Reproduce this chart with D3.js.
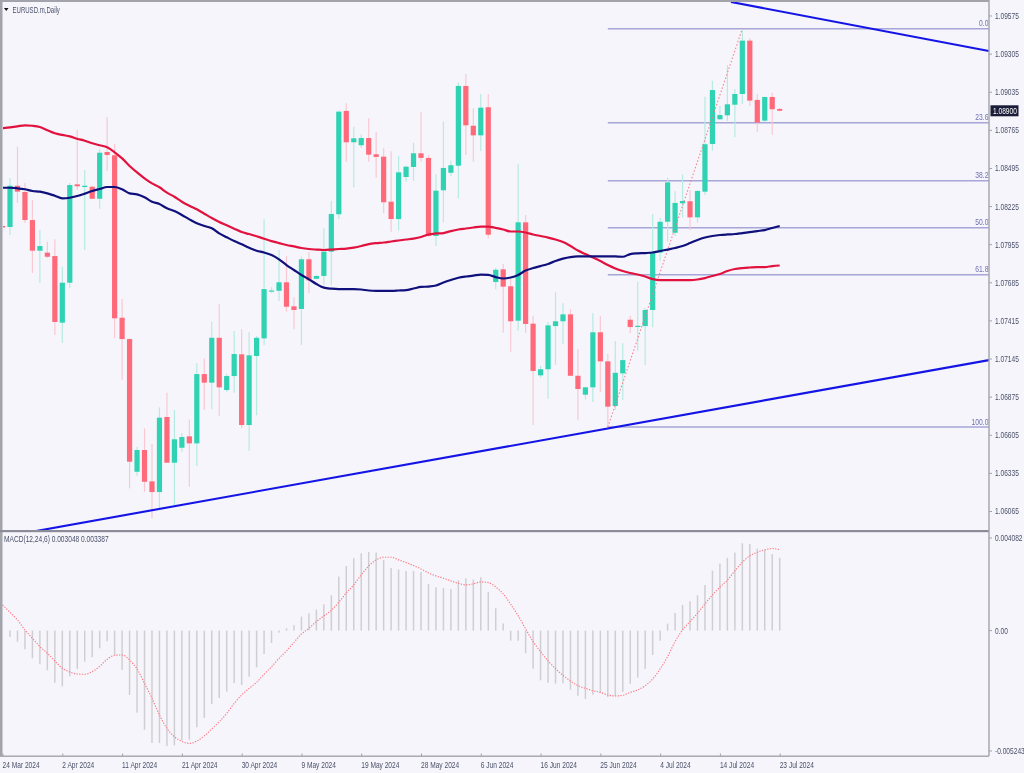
<!DOCTYPE html>
<html><head><meta charset="utf-8">
<script src="https://cdn.jsdelivr.net/npm/d3@7/dist/d3.min.js"></script>
<style>html,body{margin:0;padding:0;background:#f5f5fb;overflow:hidden}
svg{filter:blur(0.35px)}
text{font-family:"Liberation Sans",sans-serif}</style></head>
<body><svg id="c" width="1024" height="773"></svg>
<script>
// Prices in points (1 point = 0.00001)
const opens=[108084,108077,108369,108325,108126,107909,107895,107871,107399,107682,108379,108360,108362,108277,108608,108585,107434,107283,106343,106497,106275,106199,106731,106407,106513,106594,106544,107035,106974,107292,106922,107021,107175,106674,107163,107288,107623,107625,107685,107515,107496,107848,107710,107730,107902,108167,108899,108677,108656,108707,108592,108575,108256,108133,108431,108502,108599,108566,108013,108337,108461,108511,109076,108794,108726,108925,107687,107777,107657,107413,108110,107392,107026,107069,107375,107409,107458,107023,106889,106941,107331,107125,106809,107040,107420,107373,107375,107489,107895,108114,108036,108245,108259,108145,108327,108665,108840,108868,108943,109019,109397,108977,108830,108998,108913];
const highs=[108112,108424,108646,108391,108268,108055,107973,107990,107795,108388,108764,108480,108367,108629,108854,108665,107567,107290,106520,106651,106539,106799,106903,106780,106615,106714,107111,107146,107406,107529,107035,107340,107352,107331,107304,108131,107650,107914,107873,107579,107866,107902,107735,108068,108261,108901,108953,108787,108733,108847,108750,108634,108613,108580,108511,108674,108889,108585,108450,108823,108546,109099,109161,108918,109019,109019,107788,107815,107708,108523,108162,107448,107092,107404,107614,107536,107494,107210,106945,107465,107446,107179,107269,107253,107448,107689,107503,108169,108141,108426,108330,108450,108339,108339,109000,109113,108934,109225,109054,109477,109414,109019,109000,109028,108920];
const lows=[108041,108020,108247,108105,107751,107680,107857,107311,107255,107645,108339,107914,108273,108206,108476,107290,106993,106225,106315,106201,106013,106084,106407,106107,106485,106237,106383,106780,106785,106740,106908,106903,106651,106492,106743,107241,107611,107552,107477,107352,107241,107607,107706,107666,107666,108131,108539,108358,108639,108539,108426,108174,108043,108051,108398,108403,108539,108008,107942,108110,108438,108280,108587,108539,108615,107997,107635,107328,107193,107342,107328,106674,107009,106860,107099,107248,107023,106709,106856,106837,106908,106662,106780,106851,107324,107200,107099,107366,107836,107973,108013,108145,108055,108107,108303,108617,108835,108828,108712,108948,108934,108752,108823,108729,108896];
const closes=[108073,108369,108327,108126,107909,107942,107866,107404,107682,108374,108365,108369,108277,108603,108587,107430,107283,106414,106497,106272,106199,106726,106407,106573,106589,106544,107035,106974,107292,106941,107021,107177,106674,107168,107292,107637,107627,107685,107512,107489,107848,107699,107730,107902,108169,108894,108677,108705,108707,108589,108573,108252,108133,108464,108504,108599,108566,108013,108334,108495,108514,109076,108797,108726,108922,108022,107774,107654,107409,108110,107390,107057,107069,107380,107409,107458,107023,106929,106941,107331,107125,106804,107044,107134,107368,107377,107489,107895,108114,108393,108247,108261,108145,108332,108663,109047,108870,108946,109019,109397,108972,108816,108998,108911,108900];
const maRed=[108776,108783,108790,108797,108794,108785,108762,108741,108729,108719,108702,108688,108670,108656,108641,108606,108563,108509,108464,108422,108386,108358,108320,108291,108256,108228,108202,108171,108140,108112,108089,108065,108041,108027,108011,107994,107977,107963,107949,107939,107928,107921,107917,107914,107917,107921,107924,107931,107942,107956,107963,107967,107974,107981,107988,107995,108006,108024,108031,108034,108048,108059,108066,108073,108080,108080,108070,108059,108045,108045,108038,108024,108013,108002,107988,107970,107942,107910,107885,107861,107836,107807,107783,107765,107751,107740,107726,107708,107701,107701,107701,107701,107701,107705,107715,107730,107744,107765,107779,107786,107790,107793,107793,107800,107804];
const maNavy=[108355,108355,108351,108344,108332,108327,108315,108298,108280,108284,108296,108313,108332,108346,108360,108360,108344,108315,108308,108287,108256,108240,108209,108190,108162,108131,108103,108084,108068,108032,108004,107977,107954,107930,107909,107896,107878,107848,107807,107772,107737,107706,107673,107647,107640,107637,107637,107637,107634,107627,107625,107625,107625,107627,107630,107641,107652,107655,107662,107683,107701,107717,107726,107732,107740,107737,107722,107712,107719,107737,107768,107786,107800,107815,107836,107853,107864,107868,107868,107869,107869,107869,107868,107866,107885,107890,107892,107896,107907,107917,107928,107942,107963,107985,108002,108013,108020,108024,108027,108034,108041,108048,108055,108070,108084];
// MACD values in millionths
const macdHist=[0,-265,-460,-781,-1158,-1409,-1660,-2176,-2330,-1911,-1604,-1297,-1116,-739,-446,-1018,-1646,-2692,-3432,-4143,-4701,-4701,-4827,-4799,-4590,-4562,-4046,-3655,-3069,-2818,-2553,-2190,-2274,-1925,-1535,-977,-516,-84,98,223,586,725,879,1102,1479,2260,2706,3027,3236,3292,3264,2957,2623,2553,2497,2497,2455,1953,1814,1786,1744,2106,2190,2134,2232,1618,935,293,-419,-419,-949,-1590,-2079,-2176,-2218,-2204,-2469,-2720,-2860,-2678,-2595,-2776,-2734,-2567,-2218,-1967,-1604,-1018,-419,293,739,1074,1228,1479,1911,2511,2804,3041,3264,3655,3627,3432,3362,3209,3048];
const macdSignal=[1074,767,446,28,-321,-670,-949,-1269,-1576,-1730,-1814,-1827,-1716,-1493,-1200,-1032,-1018,-1228,-1604,-2204,-2832,-3529,-4087,-4436,-4631,-4715,-4617,-4408,-4115,-3808,-3460,-3041,-2692,-2413,-2162,-1827,-1507,-1158,-851,-488,-140,98,377,614,851,1186,1576,1911,2330,2706,2957,3069,3069,2957,2846,2720,2581,2413,2288,2190,2079,1981,1911,1953,2037,2009,1827,1535,1102,628,70,-460,-879,-1269,-1590,-1869,-2106,-2302,-2413,-2511,-2581,-2692,-2734,-2706,-2581,-2483,-2302,-2023,-1604,-1088,-460,28,377,725,1116,1493,1814,2120,2497,2860,3125,3278,3376,3432,3387];
const priceTicks=["1.09575","1.09305","1.09035","1.08765","1.08495","1.08225","1.07955","1.07685","1.07415","1.07145","1.06875","1.06605","1.06335","1.06065"];
const dateLabels=["24 Mar 2024","2 Apr 2024","11 Apr 2024","21 Apr 2024","30 Apr 2024","9 May 2024","19 May 2024","28 May 2024","6 Jun 2024","16 Jun 2024","25 Jun 2024","4 Jul 2024","14 Jul 2024","23 Jul 2024"];
const dateEvery=8;
const macdTicks=[0.004082,0,-0.005243];
const fibLevels=[0,23.6,38.2,50,61.8,100];
const fibHigh=109482, fibLow=106660, fibStart=81, fibPeak=99, rightEdge=132;
const trendUpperI=[97.48,132], trendUpperP=[109671,109324];
const trendLowerI=[4.48,132], trendLowerP=[105923,107134];
const lastPrice="1.08900";
const chartTitle="EURUSD.m,Daily";
const macdTitle="MACD(12,24,6) 0.003048 0.003387";

const svg=d3.select("#c");
const W=989,mainTop=2,mainBot=530,subBot=756;
const BORDER="#a3a3ab",TXT="#4b5068",FIB="#a6a6d8",FIBT="#6f6fb4",UP="#2fd3b3",DN="#ff6a7b",UPW="#b6ebe1",DNW="#f9c9d2";
const x=d3.scaleLinear().domain([0,104]).range([2.53,779.7]);
const y=d3.scaleLinear().domain([106065,109575]).range([511,15.5]);
const ym=d3.scaleLinear().domain([-5243,4082]).range([756,533]);

svg.append("defs").append("clipPath").attr("id","mc").append("rect").attr("x",3).attr("y",mainTop).attr("width",W-3).attr("height",mainBot-mainTop);
const main=svg.append("g").attr("clip-path","url(#mc)");

const fibY=r=>y(fibHigh-r/100*(fibHigh-fibLow));
main.selectAll(".fib").data(fibLevels).join("line").attr("x1",x(fibStart)).attr("x2",x(rightEdge))
  .attr("y1",fibY).attr("y2",fibY).attr("stroke",FIB).attr("stroke-width",1.5);

const n=opens.length, idx=d3.range(n);
main.selectAll(".w").data(idx).join("line").attr("x1",x).attr("x2",x)
  .attr("y1",i=>y(highs[i])).attr("y2",i=>y(lows[i]))
  .attr("stroke",i=>closes[i]>=opens[i]?UPW:DNW).attr("stroke-width",1.2);
main.selectAll(".b").data(idx).join("rect").attr("x",i=>x(i)-2.6).attr("width",5.2)
  .attr("y",i=>y(Math.max(opens[i],closes[i])))
  .attr("height",i=>Math.max(1.2,Math.abs(y(opens[i])-y(closes[i]))))
  .attr("fill",i=>closes[i]>=opens[i]?UP:DN);

main.append("line").attr("x1",x(fibStart)).attr("y1",y(fibLow)).attr("x2",x(fibPeak)).attr("y2",y(fibHigh))
  .attr("stroke",DN).attr("stroke-width",1.1).attr("stroke-dasharray","1.5 2").attr("opacity",.85);

const ln=d3.line().x((d,i)=>x(i)).y(d=>y(d)).curve(d3.curveMonotoneX);
main.append("path").attr("d",ln(maRed)).attr("fill","none").attr("stroke","#e2123f").attr("stroke-width",2.2);
main.append("path").attr("d",ln(maNavy)).attr("fill","none").attr("stroke","#10107c").attr("stroke-width",2.2);

const tl=(I,P)=>d3.line()(I.map((v,i)=>[x(v),y(P[i])]));
[[trendUpperI,trendUpperP],[trendLowerI,trendLowerP]].forEach(t=>
  main.append("path").attr("d",tl(t[0],t[1])).attr("fill","none").attr("stroke","#1414e6").attr("stroke-width",2.1));

svg.selectAll(".ft").data(fibLevels).join("text").attr("x",W-0.5).attr("y",r=>fibY(r)-2.5)
  .attr("text-anchor","end").attr("font-size",9.5).attr("fill",FIBT).text(r=>r.toFixed(1));

svg.selectAll(".h").data(idx).join("line").attr("x1",x).attr("x2",x)
  .attr("y1",ym(0)).attr("y2",i=>ym(macdHist[i])).attr("stroke","#cfcfd3").attr("stroke-width",1.5);
svg.append("path").attr("d",d3.line().x((d,i)=>x(i)).y(d=>ym(d)).curve(d3.curveMonotoneX)(macdSignal))
  .attr("fill","none").attr("stroke","#ff7a82").attr("stroke-width",1.15).attr("stroke-dasharray","1.3 1.4");

const fr=svg.append("g").attr("fill",BORDER);
fr.append("rect").attr("x",0).attr("y",0).attr("width",2.5).attr("height",subBot);
fr.append("rect").attr("x",0).attr("y",0).attr("width",W).attr("height",2);
fr.append("rect").attr("x",0).attr("y",530).attr("width",W).attr("height",2.2).attr("fill","#8c8c98");
fr.append("rect").attr("x",0).attr("y",subBot-.5).attr("width",W).attr("height",1.4);
fr.append("rect").attr("x",W-.7).attr("y",0).attr("width",1.4).attr("height",subBot);

function style(g){g.select(".domain").remove();g.selectAll("line").attr("stroke",BORDER);
  g.selectAll("text").attr("fill",TXT).attr("font-size",9.3).style("font-family",'"Liberation Sans",sans-serif');}
svg.append("g").attr("transform",`translate(${W},0)`)
  .call(d3.axisRight(y).tickValues(priceTicks.map(t=>+t*1e5)).tickSize(3).tickPadding(3).tickFormat(d=>(d/1e5).toFixed(5))).call(style);
const mAxis=svg.append("g").attr("transform",`translate(${W},0)`)
  .call(d3.axisRight(ym).tickValues(macdTicks.map(t=>t*1e6)).tickSize(3).tickPadding(3)
  .tickFormat(d=>{const v=d/1e6;return v===0?"0.00":v.toFixed(6);})).call(style);
mAxis.selectAll("g.tick").attr("transform",d=>{const o=d>0?5:d<0?-5:0;return `translate(0,${ym(d)+o})`;});
const dAxis=svg.append("g").attr("transform",`translate(0,${subBot})`)
  .call(d3.axisBottom(x).tickValues(dateLabels.map((d,i)=>i*dateEvery)).tickSize(-2.5).tickPadding(5).tickFormat((d,i)=>dateLabels[i])).call(style);
dAxis.selectAll("text").attr("text-anchor","start").attr("dx",-.5);

const tag=svg.append("g");
tag.append("rect").attr("x",W+1.5).attr("y",y(+lastPrice*1e5)-5.5).attr("width",28).attr("height",11).attr("fill","#1b1c38");
tag.append("text").attr("x",W+4).attr("y",y(+lastPrice*1e5)+3.3).attr("fill","#fff").attr("font-size",9.3).text(lastPrice);

svg.append("path").attr("d",d3.line()([[4,8],[8.5,8],[6.25,11]])+"Z").attr("fill","#111");
const t1=svg.append("text").attr("x",12.5).attr("y",13).attr("font-size",9.3).attr("fill",TXT).text(chartTitle).attr("data-f",.65);
svg.append("text").attr("x",4).attr("y",542).attr("font-size",9.3).attr("fill",TXT).text(macdTitle);

// condense every label to the chart's narrow platform font
svg.selectAll("text").each(function(){
  const f=+(this.getAttribute("data-f")||.71);
  this.setAttribute("textLength",this.getComputedTextLength()*f);
  this.setAttribute("lengthAdjust","spacingAndGlyphs");
});
</script></body></html>
